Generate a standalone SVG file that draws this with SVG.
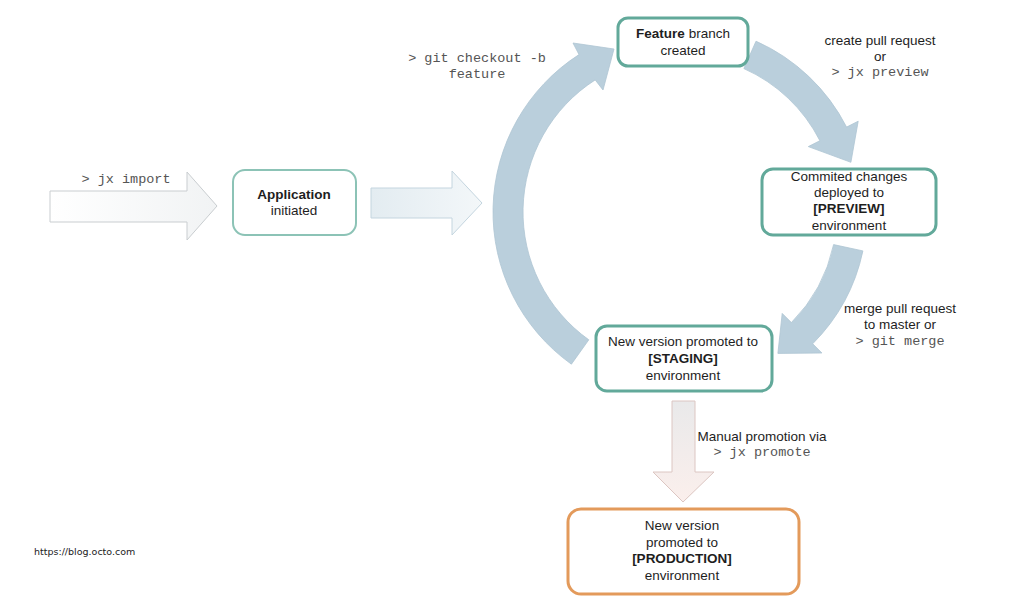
<svg xmlns="http://www.w3.org/2000/svg" width="1024" height="611" viewBox="0 0 1024 611">
<defs>
<linearGradient id="gIn" x1="0" y1="0" x2="1" y2="0"><stop offset="0" stop-color="#ffffff"/><stop offset="1" stop-color="#f1f3f4"/></linearGradient>
<linearGradient id="gBlue" x1="0" y1="0" x2="1" y2="0"><stop offset="0" stop-color="#e3ecf1"/><stop offset="1" stop-color="#f3f7f9"/></linearGradient>
<linearGradient id="gDown" x1="0" y1="0" x2="0" y2="1"><stop offset="0" stop-color="#e9e9ea"/><stop offset="1" stop-color="#fbefec"/></linearGradient>
<style>
.arc{fill:#bacfdc;stroke:#aec5d3;stroke-width:0.8}
.box{fill:#fff;stroke:#62a99a;stroke-width:3}
.t{font-family:"Liberation Sans",Arial,sans-serif;font-size:13.5px;fill:#1e1e1e;text-anchor:middle}
.b{font-weight:bold}
.m{font-family:"Liberation Mono","Courier New",monospace;font-size:13.5px;fill:#555;text-anchor:middle}
</style>
</defs>
<rect width="1024" height="611" fill="#fff"/>
<g id="connectors">
<path d="M50,191 H187 V172 L217,206 L187,240 V222 H50 Z" fill="url(#gIn)" stroke="#c9cdd0" stroke-width="1"/>
<path d="M371,188 H452 V171 L482,203 L452,235 V218 H371 Z" fill="url(#gBlue)" stroke="#c4d5df" stroke-width="1"/>
<path class="arc" d="M571.4,364.2 A187,187 0 0 1 579,54.6 L573,43 L614,49 L603,90 L595.2,79.9 A157,157 0 0 0 588.8,339.8 Z"/>
<path class="arc" d="M756,41.2 A187,187 0 0 1 846.6,127.1 L858.2,121.2 L850.9,162.3 L808.3,146.6 L819.9,140.7 A157,157 0 0 0 743.9,68.6 Z"/>
<path class="arc" d="M862.9,250.9 A187,187 0 0 1 812.7,343.8 L821.9,353 L777.9,353.4 L782.2,313.4 L791.4,322.6 A157,157 0 0 0 833.6,244.6 Z"/>
<path d="M672,401 H695 V472 H714 L683,502 L653,472 H672 Z" fill="url(#gDown)" stroke="#dcc6c2" stroke-width="1"/>
<text class="m" x="126" y="183">&gt; jx import</text>
<text class="m" x="477" y="62">&gt; git checkout -b</text>
<text class="m" x="477" y="78">feature</text>
<text class="t" x="880" y="45">create pull request</text>
<text class="t" x="880" y="61">or</text>
<text class="m" x="880" y="76">&gt; jx preview</text>
<text class="t" x="900" y="313">merge pull request</text>
<text class="t" x="900" y="329">to master or</text>
<text class="m" x="900" y="345">&gt; git merge</text>
<text class="t" x="762" y="441">Manual promotion via</text>
<text class="m" x="762" y="456">&gt; jx promote</text>
</g>
<g id="application">
<rect x="233" y="170" width="123" height="65" rx="12" fill="#fff" stroke="#8cc3b6" stroke-width="2"/>
<text class="t b" x="294" y="199">Application</text>
<text class="t" x="294" y="215">initiated</text>
</g>
<g id="feature">
<rect class="box" x="618" y="18" width="130" height="48" rx="10"/>
<text class="t" x="683" y="38"><tspan class="b">Feature</tspan> branch</text>
<text class="t" x="683" y="55">created</text>
</g>
<g id="preview">
<rect class="box" x="762" y="169" width="174" height="66" rx="11"/>
<text class="t" x="849" y="181">Commited changes</text>
<text class="t" x="849" y="197">deployed to</text>
<text class="t b" x="849" y="213">[PREVIEW]</text>
<text class="t" x="849" y="230">environment</text>
</g>
<g id="staging">
<rect class="box" x="596" y="326" width="176" height="65" rx="11"/>
<text class="t" x="683" y="346">New version promoted to</text>
<text class="t b" x="683" y="363">[STAGING]</text>
<text class="t" x="683" y="380">environment</text>
</g>
<g id="production">
<rect x="568" y="509" width="231" height="85" rx="13" fill="#fff" stroke="#e39a5b" stroke-width="3"/>
<text class="t" x="682" y="530">New version</text>
<text class="t" x="682" y="547">promoted to</text>
<text class="t b" x="682" y="563">[PRODUCTION]</text>
<text class="t" x="682" y="580">environment</text>
</g>
<text x="34" y="555" font-family="DejaVu Sans, sans-serif" font-size="9.5" fill="#222">https://blog.octo.com</text>
</svg>
